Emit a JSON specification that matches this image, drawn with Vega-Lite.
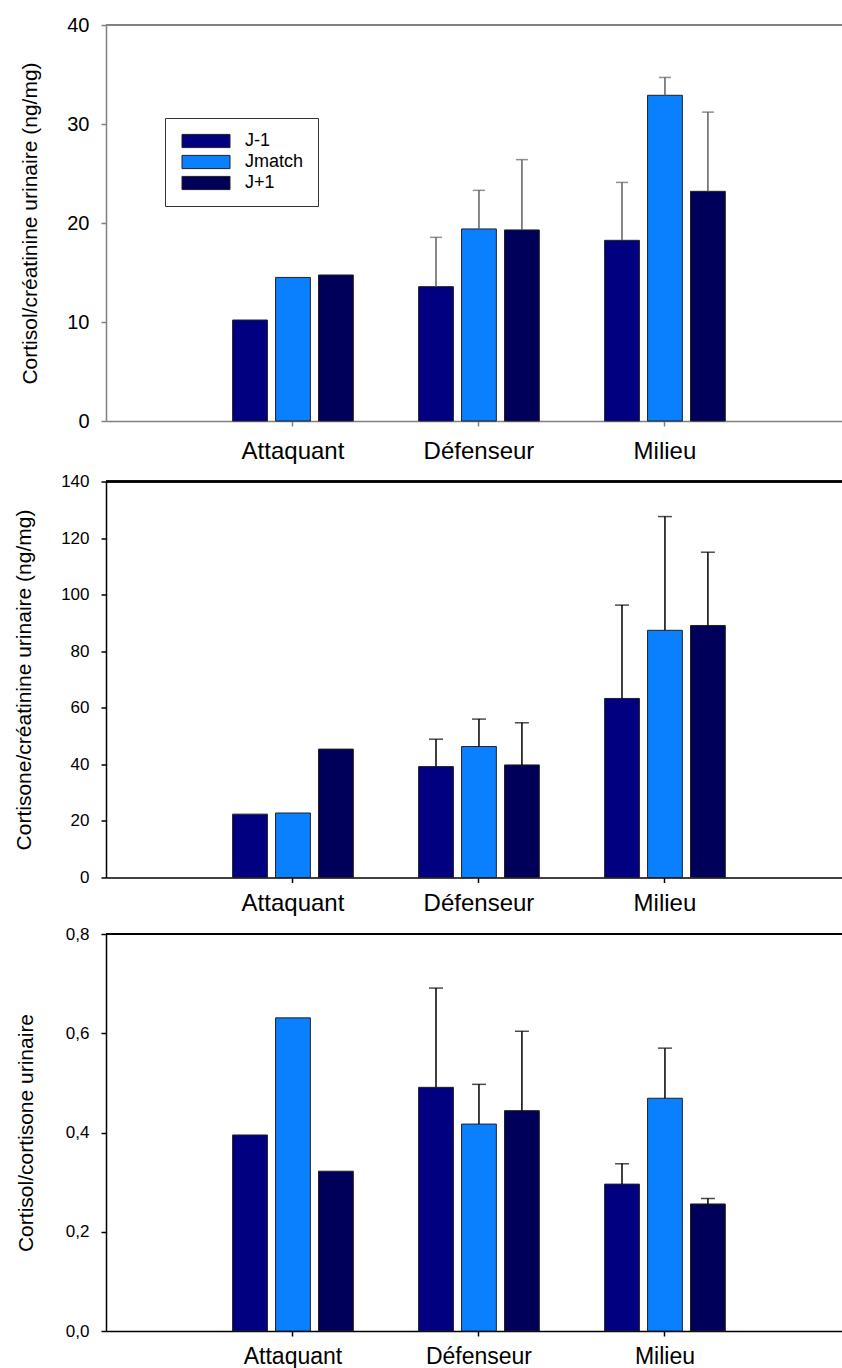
{
  "$schema": "https://vega.github.io/schema/vega-lite/v6.json",
  "padding": {"left": 13, "top": 15, "right": 0, "bottom": 0},
  "spacing": 9.5,
  "config": {
    "font": "Liberation Sans",
    "view": {"stroke": null},
    "axis": {"grid": false, "labelColor": "#000000", "titleColor": "#000000", "titleFontWeight": "normal", "tickSize": 5}
  },
  "datasets": {
    "d": [
      {"panel": "p1", "position": "Attaquant", "period": "J-1", "mean": 10.2, "upper": null},
      {"panel": "p1", "position": "Attaquant", "period": "Jmatch", "mean": 14.5, "upper": null},
      {"panel": "p1", "position": "Attaquant", "period": "J+1", "mean": 14.75, "upper": null},
      {"panel": "p1", "position": "Défenseur", "period": "J-1", "mean": 13.57, "upper": 18.55},
      {"panel": "p1", "position": "Défenseur", "period": "Jmatch", "mean": 19.4, "upper": 23.3},
      {"panel": "p1", "position": "Défenseur", "period": "J+1", "mean": 19.3, "upper": 26.4},
      {"panel": "p1", "position": "Milieu", "period": "J-1", "mean": 18.25, "upper": 24.1},
      {"panel": "p1", "position": "Milieu", "period": "Jmatch", "mean": 32.9, "upper": 34.7},
      {"panel": "p1", "position": "Milieu", "period": "J+1", "mean": 23.2, "upper": 31.2},
      {"panel": "p2", "position": "Attaquant", "period": "J-1", "mean": 22.4, "upper": null},
      {"panel": "p2", "position": "Attaquant", "period": "Jmatch", "mean": 22.8, "upper": null},
      {"panel": "p2", "position": "Attaquant", "period": "J+1", "mean": 45.4, "upper": null},
      {"panel": "p2", "position": "Défenseur", "period": "J-1", "mean": 39.2, "upper": 48.9},
      {"panel": "p2", "position": "Défenseur", "period": "Jmatch", "mean": 46.3, "upper": 56.0},
      {"panel": "p2", "position": "Défenseur", "period": "J+1", "mean": 39.8, "upper": 54.7},
      {"panel": "p2", "position": "Milieu", "period": "J-1", "mean": 63.3, "upper": 96.3},
      {"panel": "p2", "position": "Milieu", "period": "Jmatch", "mean": 87.4, "upper": 127.6},
      {"panel": "p2", "position": "Milieu", "period": "J+1", "mean": 89.1, "upper": 115.0},
      {"panel": "p3", "position": "Attaquant", "period": "J-1", "mean": 0.395, "upper": null},
      {"panel": "p3", "position": "Attaquant", "period": "Jmatch", "mean": 0.631, "upper": null},
      {"panel": "p3", "position": "Attaquant", "period": "J+1", "mean": 0.322, "upper": null},
      {"panel": "p3", "position": "Défenseur", "period": "J-1", "mean": 0.491, "upper": 0.691},
      {"panel": "p3", "position": "Défenseur", "period": "Jmatch", "mean": 0.417, "upper": 0.497},
      {"panel": "p3", "position": "Défenseur", "period": "J+1", "mean": 0.444, "upper": 0.604},
      {"panel": "p3", "position": "Milieu", "period": "J-1", "mean": 0.296, "upper": 0.337},
      {"panel": "p3", "position": "Milieu", "period": "Jmatch", "mean": 0.469, "upper": 0.570},
      {"panel": "p3", "position": "Milieu", "period": "J+1", "mean": 0.256, "upper": 0.267}
    ]
  },
  "resolve": {"scale": {"color": "independent", "y": "independent"}, "legend": {"color": "independent"}},
  "vconcat": [
    {
      "width": 738, "height": 396,
      "data": {"name": "d"},
      "transform": [{"filter": "datum.panel == 'p1'"}],
      "encoding": {
        "x": {"field": "position", "type": "nominal", "sort": ["Attaquant", "Défenseur", "Milieu"],
          "scale": {"paddingInner": 0, "paddingOuter": 0.484, "align": 0.522},
          "axis": {"title": null, "labelAngle": 0, "labelFontSize": 24, "labelPadding": 13, "domainColor": "#808080", "tickColor": "#808080", "domainWidth": 1.5, "tickWidth": 1.5}},
        "xOffset": {"field": "period", "type": "nominal", "scale": {"domain": ["J-1", "Jmatch", "J+1"], "paddingInner": 0.19, "paddingOuter": 0.76}}
      },
      "layer": [
        {
          "mark": {"type": "bar", "stroke": "#202020", "strokeWidth": 1},
          "encoding": {
            "y": {"field": "mean", "type": "quantitative", "scale": {"domain": [0, 40], "nice": false},
              "axis": {"values": [0, 10, 20, 30, 40], "title": "Cortisol/créatinine urinaire (ng/mg)", "titleFontSize": 21, "titlePadding": 26, "labelFontSize": 20, "labelPadding": 12, "domainColor": "#808080", "tickColor": "#808080", "domainWidth": 1.5, "tickWidth": 1.5}},
            "color": {"field": "period", "type": "nominal",
              "scale": {"domain": ["J-1", "Jmatch", "J+1"], "range": ["#000080", "#0A80FF", "#00005A"]},
              "legend": {"title": null, "orient": "none", "legendX": 59, "legendY": 93, "strokeColor": "#333333", "fillColor": "#ffffff", "padding": 14,
                "symbolType": "M-1,-1.1H7V1.1H-1Z", "symbolSize": 144, "symbolStrokeColor": "#202020", "symbolStrokeWidth": 1, "symbolOpacity": 1,
                "labelFontSize": 18, "labelOffset": 48, "rowPadding": 3, "labelColor": "#000000", "labelLimit": 200}}
          }
        },
        {
          "transform": [{"filter": "datum.upper != null"}],
          "mark": {"type": "rule", "color": "#606060", "strokeWidth": 1.5},
          "encoding": {"y": {"field": "mean", "type": "quantitative"}, "y2": {"field": "upper"}}
        },
        {
          "transform": [{"filter": "datum.upper != null"}],
          "mark": {"type": "tick", "color": "#606060", "thickness": 1.5, "size": 12},
          "encoding": {"y": {"field": "upper", "type": "quantitative"}}
        },
        {
          "mark": {"type": "rule", "color": "#808080", "strokeWidth": 1.5},
          "encoding": {"y": {"datum": 40}, "x": {"value": 0}, "x2": {"value": 738}, "xOffset": null}
        }
      ]
    },
    {
      "width": 738, "height": 396,
      "data": {"name": "d"},
      "transform": [{"filter": "datum.panel == 'p2'"}],
      "encoding": {
        "x": {"field": "position", "type": "nominal", "sort": ["Attaquant", "Défenseur", "Milieu"],
          "scale": {"paddingInner": 0, "paddingOuter": 0.484, "align": 0.522},
          "axis": {"title": null, "labelAngle": 0, "labelFontSize": 24, "labelPadding": 9, "domainColor": "#000000", "tickColor": "#000000", "domainWidth": 1.5, "tickWidth": 1.5}},
        "xOffset": {"field": "period", "type": "nominal", "scale": {"domain": ["J-1", "Jmatch", "J+1"], "paddingInner": 0.19, "paddingOuter": 0.76}}
      },
      "layer": [
        {
          "mark": {"type": "bar", "stroke": "#202020", "strokeWidth": 1},
          "encoding": {
            "y": {"field": "mean", "type": "quantitative", "scale": {"domain": [0, 140], "nice": false},
              "axis": {"values": [0, 20, 40, 60, 80, 100, 120, 140], "title": "Cortisone/créatinine urinaire (ng/mg)", "titleFontSize": 21, "titlePadding": 26, "labelFontSize": 17, "labelPadding": 12, "domainColor": "#000000", "tickColor": "#000000", "domainWidth": 1.5, "tickWidth": 1.5}},
            "color": {"field": "period", "type": "nominal",
              "scale": {"domain": ["J-1", "Jmatch", "J+1"], "range": ["#000080", "#0A80FF", "#00005A"]}, "legend": null}
          }
        },
        {
          "transform": [{"filter": "datum.upper != null"}],
          "mark": {"type": "rule", "color": "#000000", "strokeWidth": 1.5},
          "encoding": {"y": {"field": "mean", "type": "quantitative"}, "y2": {"field": "upper"}}
        },
        {
          "transform": [{"filter": "datum.upper != null"}],
          "mark": {"type": "tick", "color": "#000000", "thickness": 1.5, "size": 14},
          "encoding": {"y": {"field": "upper", "type": "quantitative"}}
        },
        {
          "mark": {"type": "rule", "color": "#000000", "strokeWidth": 1.5},
          "encoding": {"y": {"datum": 140}, "x": {"value": 0}, "x2": {"value": 738}, "xOffset": null}
        }
      ]
    },
    {
      "width": 738, "height": 397,
      "data": {"name": "d"},
      "transform": [{"filter": "datum.panel == 'p3'"}],
      "encoding": {
        "x": {"field": "position", "type": "nominal", "sort": ["Attaquant", "Défenseur", "Milieu"],
          "scale": {"paddingInner": 0, "paddingOuter": 0.484, "align": 0.522},
          "axis": {"title": null, "labelAngle": 0, "labelFontSize": 23, "labelPadding": 9, "domainColor": "#000000", "tickColor": "#000000", "domainWidth": 1.5, "tickWidth": 1.5}},
        "xOffset": {"field": "period", "type": "nominal", "scale": {"domain": ["J-1", "Jmatch", "J+1"], "paddingInner": 0.19, "paddingOuter": 0.76}}
      },
      "layer": [
        {
          "mark": {"type": "bar", "stroke": "#202020", "strokeWidth": 1},
          "encoding": {
            "y": {"field": "mean", "type": "quantitative", "scale": {"domain": [0, 0.8], "nice": false},
              "axis": {"values": [0, 0.2, 0.4, 0.6, 0.8], "labelExpr": "replace(format(datum.value, '.1f'), '.', ',')", "title": "Cortisol/cortisone urinaire", "titleFontSize": 21, "titlePadding": 29, "labelFontSize": 17, "labelPadding": 12, "domainColor": "#000000", "tickColor": "#000000", "domainWidth": 1.5, "tickWidth": 1.5}},
            "color": {"field": "period", "type": "nominal",
              "scale": {"domain": ["J-1", "Jmatch", "J+1"], "range": ["#000080", "#0A80FF", "#00005A"]}, "legend": null}
          }
        },
        {
          "transform": [{"filter": "datum.upper != null"}],
          "mark": {"type": "rule", "color": "#000000", "strokeWidth": 1.5},
          "encoding": {"y": {"field": "mean", "type": "quantitative"}, "y2": {"field": "upper"}}
        },
        {
          "transform": [{"filter": "datum.upper != null"}],
          "mark": {"type": "tick", "color": "#000000", "thickness": 1.5, "size": 14},
          "encoding": {"y": {"field": "upper", "type": "quantitative"}}
        },
        {
          "mark": {"type": "rule", "color": "#000000", "strokeWidth": 1.5},
          "encoding": {"y": {"datum": 0.8}, "x": {"value": 0}, "x2": {"value": 738}, "xOffset": null}
        }
      ]
    }
  ]
}
